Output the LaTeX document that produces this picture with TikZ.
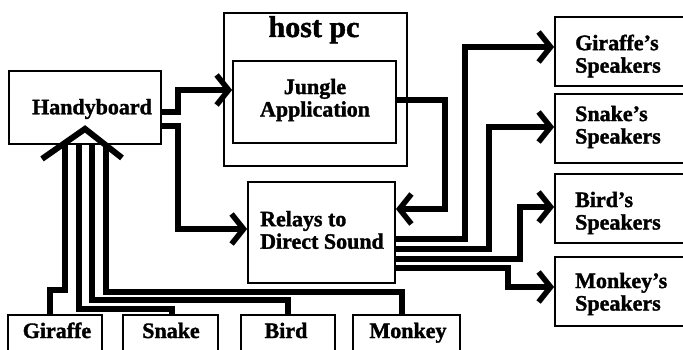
\documentclass[tikz,border=0pt]{standalone}
\usepackage{fontspec}
\setmainfont[BoldFeatures={FakeBold=1.5}]{Liberation Serif}
\usetikzlibrary{arrows.meta}
\tikzset{
  box/.style={draw, line width=1.8pt, inner sep=0pt},
  lbl/.style={font=\bfseries\fontsize{22}{22.5}\selectfont, align=left, inner sep=0pt},
  conn/.style={line width=5.5pt, line join=miter, -{Straight Barb[length=12pt,width=30pt]}},
  wire/.style={line width=5.5pt, line join=miter},
  bighead/.style={line width=6pt, line join=miter}
}
\begin{document}
\begin{tikzpicture}[x=1pt,y=-1pt]
\useasboundingbox (0,0) rectangle (683,350);
\clip (0,0) rectangle (683,350);
% boxes
\node[box, minimum width=152pt, minimum height=73pt] (hb) at (85,107.5) {};
\node[lbl] (hbt) at (92,109) {Handyboard};
\node[box, minimum width=183pt, minimum height=153pt] (host) at (315.5,89.5) {};
\node[lbl, font=\bfseries\fontsize{30}{32}\selectfont, anchor=base] (hostt) at (314,37) {host pc};
\node[box, minimum width=163pt, minimum height=82pt] (jungle) at (314.5,102) {};
\node[lbl, align=center] (junglet) at (315,100) {Jungle\\Application};
\node[box, minimum width=147pt, minimum height=101pt] (relays) at (321.5,232.5) {};
\node[lbl, anchor=west] (relayst) at (260,230) {Relays to\\Direct Sound};
% speakers
\node[box, minimum width=135pt, minimum height=69pt] (gs) at (622.5,51.5) {};
\node[lbl, anchor=west] (gst) at (575,56) {Giraffe's\\Speakers};
\node[box, minimum width=135pt, minimum height=69pt] (ss) at (622.5,128.5) {};
\node[lbl, anchor=west] (sst) at (575,127) {Snake's\\Speakers};
\node[box, minimum width=135pt, minimum height=69pt] (bs) at (622.5,208.5) {};
\node[lbl, anchor=west] (bst) at (575,213) {Bird's\\Speakers};
\node[box, minimum width=135pt, minimum height=69pt] (ms) at (622.5,291.5) {};
\node[lbl, anchor=west] (mst) at (575,294) {Monkey's\\Speakers};
% sensors
\node[box, minimum width=94pt, minimum height=50pt] (gir) at (55,340) {};
\node[lbl, anchor=base] (girt) at (57,338) {Giraffe};
\node[box, minimum width=95pt, minimum height=50pt] (snk) at (170.5,340) {};
\node[lbl, anchor=base] (snkt) at (171,338) {Snake};
\node[box, minimum width=94pt, minimum height=50pt] (brd) at (288,340) {};
\node[lbl, anchor=base] (brdt) at (286,338) {Bird};
\node[box, minimum width=107pt, minimum height=50pt] (mky) at (406.5,340) {};
\node[lbl, anchor=base] (mkyt) at (408,338) {Monkey};
% connectors
\draw[conn] (hb.east |- 0,112) -- (178,112) |- (jungle.west |- 0,90);
\draw[conn] (hb.east |- 0,126) -| (178,229) -- (relays.west |- 0,229);
\draw[conn] (jungle.east |- 0,100) -| (445,209) -- (relays.east |- 0,209);
\draw[conn] (relays.east |- 0,239) -| (465,47) -- (gs.west |- 0,47);
\draw[conn] (relays.east |- 0,249) -| (489,127) -- (ss.west |- 0,127);
\draw[conn] (relays.east |- 0,259) -| (520,207) -- (bs.west |- 0,207);
\draw[conn] (relays.east |- 0,268) -| (508,287) -- (ms.west |- 0,287);
% sensor wires
\draw[wire] (gir.north -| 50,0) |- (65,290) -- (hb.south -| 65,0);
\draw[wire] (snk.north -| 172,0) |- (79,309) -- (hb.south -| 79,0);
\draw[wire] (brd.north -| 288,0) |- (92,300) -- (hb.south -| 92,0);
\draw[wire] (mky.north -| 402,0) |- (106,292) -- (hb.south -| 106,0);
\draw[bighead] ([shift={(-43,14)}]hb.south) -- ([shift={(0,-16)}]hb.south) -- ([shift={(37,13)}]hb.south);
\end{tikzpicture}
\end{document}
